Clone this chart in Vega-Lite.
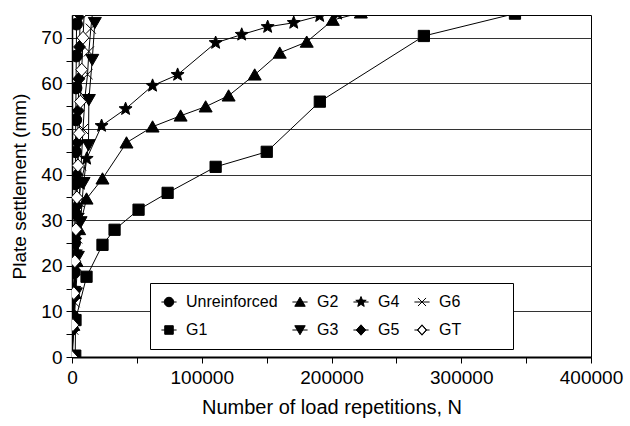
{
  "$schema": "https://vega.github.io/schema/vega-lite/v6.json",
  "width": 519,
  "height": 342,
  "autosize": "none",
  "padding": {"left": 72, "top": 15, "right": 39, "bottom": 69},
  "background": "white",
  "config": {
    "font": "Liberation Sans",
    "view": {"stroke": "black", "strokeWidth": 1},
    "axis": {
      "labelFontSize": 19,
      "titleFontSize": 19,
      "titleFontWeight": "normal",
      "labelColor": "black",
      "titleColor": "black",
      "domainColor": "black",
      "tickColor": "black",
      "tickSize": 6,
      "labelFlush": false,
      "labelOverlap": false
    }
  },
  "data": {
    "values": [
      {"series": "Unreinforced", "n": 0, "s": 0},
      {"series": "Unreinforced", "n": 500, "s": 9},
      {"series": "Unreinforced", "n": 1000, "s": 13.5},
      {"series": "Unreinforced", "n": 1700, "s": 18.5},
      {"series": "Unreinforced", "n": 2000, "s": 25},
      {"series": "Unreinforced", "n": 2300, "s": 31.5},
      {"series": "Unreinforced", "n": 2500, "s": 38},
      {"series": "Unreinforced", "n": 2700, "s": 45},
      {"series": "Unreinforced", "n": 2900, "s": 52},
      {"series": "Unreinforced", "n": 3100, "s": 59},
      {"series": "Unreinforced", "n": 3300, "s": 66},
      {"series": "Unreinforced", "n": 3500, "s": 73},

      {"series": "G1", "n": 2500, "s": 0.3},
      {"series": "G1", "n": 2700, "s": 8.1},
      {"series": "G1", "n": 11200, "s": 17.6},
      {"series": "G1", "n": 23500, "s": 24.6},
      {"series": "G1", "n": 32800, "s": 27.9},
      {"series": "G1", "n": 51300, "s": 32.3},
      {"series": "G1", "n": 73700, "s": 36.0},
      {"series": "G1", "n": 110700, "s": 41.7},
      {"series": "G1", "n": 150100, "s": 45.0},
      {"series": "G1", "n": 191000, "s": 56.0},
      {"series": "G1", "n": 271200, "s": 70.4},
      {"series": "G1", "n": 341400, "s": 75.3},

      {"series": "G2", "n": 0, "s": 0},
      {"series": "G2", "n": 1000, "s": 7},
      {"series": "G2", "n": 2000, "s": 14},
      {"series": "G2", "n": 3500, "s": 21},
      {"series": "G2", "n": 5500, "s": 28},
      {"series": "G2", "n": 11200, "s": 34.7},
      {"series": "G2", "n": 23500, "s": 39.1},
      {"series": "G2", "n": 42000, "s": 47.0},
      {"series": "G2", "n": 62100, "s": 50.5},
      {"series": "G2", "n": 83700, "s": 52.9},
      {"series": "G2", "n": 103000, "s": 54.9},
      {"series": "G2", "n": 120700, "s": 57.3},
      {"series": "G2", "n": 140800, "s": 61.9},
      {"series": "G2", "n": 160100, "s": 66.7},
      {"series": "G2", "n": 180900, "s": 69.1},
      {"series": "G2", "n": 201000, "s": 73.9},
      {"series": "G2", "n": 222600, "s": 75.5},

      {"series": "G3", "n": 0, "s": 0},
      {"series": "G3", "n": 1500, "s": 7},
      {"series": "G3", "n": 3000, "s": 14},
      {"series": "G3", "n": 4500, "s": 22},
      {"series": "G3", "n": 6600, "s": 29.6},
      {"series": "G3", "n": 8900, "s": 38.2},
      {"series": "G3", "n": 12700, "s": 46.5},
      {"series": "G3", "n": 13000, "s": 56.4},
      {"series": "G3", "n": 15600, "s": 65.2},
      {"series": "G3", "n": 17600, "s": 73.3},

      {"series": "G4", "n": 0, "s": 0},
      {"series": "G4", "n": 800, "s": 7},
      {"series": "G4", "n": 1800, "s": 15},
      {"series": "G4", "n": 3000, "s": 23},
      {"series": "G4", "n": 4500, "s": 31},
      {"series": "G4", "n": 6500, "s": 38},
      {"series": "G4", "n": 11300, "s": 43.5},
      {"series": "G4", "n": 22800, "s": 50.7},
      {"series": "G4", "n": 41300, "s": 54.4},
      {"series": "G4", "n": 62100, "s": 59.5},
      {"series": "G4", "n": 81400, "s": 61.9},
      {"series": "G4", "n": 110700, "s": 68.9},
      {"series": "G4", "n": 130800, "s": 70.7},
      {"series": "G4", "n": 150800, "s": 72.4},
      {"series": "G4", "n": 170900, "s": 73.3},
      {"series": "G4", "n": 190900, "s": 74.8},
      {"series": "G4", "n": 204800, "s": 75.3},

      {"series": "G5", "n": 0, "s": 0},
      {"series": "G5", "n": 800, "s": 6},
      {"series": "G5", "n": 1500, "s": 13},
      {"series": "G5", "n": 2200, "s": 19},
      {"series": "G5", "n": 2800, "s": 26},
      {"series": "G5", "n": 3300, "s": 33},
      {"series": "G5", "n": 3800, "s": 40},
      {"series": "G5", "n": 4300, "s": 47},
      {"series": "G5", "n": 4800, "s": 54},
      {"series": "G5", "n": 5300, "s": 61},
      {"series": "G5", "n": 5800, "s": 68},
      {"series": "G5", "n": 6300, "s": 75},

      {"series": "G6", "n": 0, "s": 0},
      {"series": "G6", "n": 1000, "s": 6},
      {"series": "G6", "n": 2000, "s": 12},
      {"series": "G6", "n": 3000, "s": 19},
      {"series": "G6", "n": 4000, "s": 26},
      {"series": "G6", "n": 5500, "s": 34},
      {"series": "G6", "n": 7000, "s": 42},
      {"series": "G6", "n": 8500, "s": 50},
      {"series": "G6", "n": 10000, "s": 57},
      {"series": "G6", "n": 12000, "s": 62},
      {"series": "G6", "n": 13000, "s": 67},
      {"series": "G6", "n": 14500, "s": 72},
      {"series": "G6", "n": 16000, "s": 76},

      {"series": "GT", "n": 0, "s": 0},
      {"series": "GT", "n": 700, "s": 7},
      {"series": "GT", "n": 1400, "s": 14},
      {"series": "GT", "n": 2200, "s": 21},
      {"series": "GT", "n": 3000, "s": 28},
      {"series": "GT", "n": 3800, "s": 35},
      {"series": "GT", "n": 4600, "s": 42},
      {"series": "GT", "n": 5500, "s": 49},
      {"series": "GT", "n": 6500, "s": 56},
      {"series": "GT", "n": 7500, "s": 63},
      {"series": "GT", "n": 8500, "s": 70},
      {"series": "GT", "n": 9500, "s": 76}
    ]
  },
  "encoding": {
    "x": {
      "field": "n",
      "type": "quantitative",
      "scale": {"domain": [0, 400000], "nice": false},
      "axis": {
        "title": "Number of load repetitions, N",
        "titleFontSize": 20,
        "values": [0, 50000, 100000, 150000, 200000, 250000, 300000, 350000, 400000],
        "format": "d",
        "labelExpr": "datum.value % 100000 === 0 ? datum.label : ''",
        "grid": false,
        "domainWidth": 2,
        "labelPadding": 5,
        "titlePadding": 10
      }
    },
    "y": {
      "field": "s",
      "type": "quantitative",
      "scale": {"domain": [0, 75], "nice": false},
      "axis": {
        "title": "Plate settlement (mm)",
        "values": [0, 5, 10, 15, 20, 25, 30, 35, 40, 45, 50, 55, 60, 65, 70],
        "labelExpr": "datum.value % 10 === 0 ? datum.label : ''",
        "grid": true,
        "gridColor": "#333333",
        "gridOpacity": {"condition": {"test": "datum.value % 10 === 0", "value": 1}, "value": 0},
        "domainWidth": 1.5,
        "labelPadding": 4,
        "titlePadding": 11
      }
    }
  },
  "resolve": {"scale": {"shape": "independent"}},
  "layer": [
    {
      "mark": {"type": "line", "color": "black", "strokeWidth": 1, "clip": true},
      "encoding": {"detail": {"field": "series"}}
    },
    {
      "mark": {"type": "point", "filled": true, "color": "black", "stroke": "black", "strokeWidth": 1, "opacity": 1, "size": 140, "clip": true},
      "encoding": {
        "fill": {"condition": {"test": "datum.series === 'GT'", "value": "white"}, "value": "black"},
        "shape": {
          "field": "series",
          "type": "nominal",
          "scale": {
            "domain": ["Unreinforced", "G1", "G2", "G3", "G4", "G5", "G6", "GT"],
            "range": [
              "M1,0A1,1,0,1,1,-1,0A1,1,0,1,1,1,0Z",
              "M-0.95,-0.95H0.95V0.95H-0.95Z",
              "M0,-1L1.1,0.9L-1.1,0.9Z",
              "M0,1L1.1,-0.9L-1.1,-0.9Z",
              "M0,-1.15L0.294,-0.405L1.094,-0.355L0.476,0.155L0.676,0.93L0,0.5L-0.676,0.93L-0.476,0.155L-1.094,-0.355L-0.294,-0.405Z",
              "M0,-1.1L1,0L0,1.1L-1,0Z",
              "M-0.85,-0.85L0.85,0.85M-0.85,0.85L0.85,-0.85",
              "M0,-1.1L1,0L0,1.1L-1,0Z"
            ]
          },
          "legend": null
        }
      }
    },
    {
      "mark": {"type": "point", "filled": true, "color": "black", "stroke": "black", "strokeWidth": 1, "opacity": 1, "size": 0},
      "encoding": {
        "shape": {
          "field": "series",
          "type": "nominal",
          "scale": {
            "domain": ["Unreinforced", "G1", "G2", "G3", "G4", "G5", "G6", "GT"],
            "range": [
              "M-1.6,0H1.6M1,0A1,1,0,1,1,-1,0A1,1,0,1,1,1,0Z",
              "M-1.6,0H1.6M-0.9,-0.9H0.9V0.9H-0.9Z",
              "M-1.6,0H1.6M0,-1L1.1,0.9L-1.1,0.9Z",
              "M-1.6,0H1.6M0,1L1.1,-0.9L-1.1,-0.9Z",
              "M-1.6,0H1.6M0,-1.15L0.294,-0.405L1.094,-0.355L0.476,0.155L0.676,0.93L0,0.5L-0.676,0.93L-0.476,0.155L-1.094,-0.355L-0.294,-0.405Z",
              "M-1.6,0H1.6M0,-1.1L1,0L0,1.1L-1,0Z",
              "M-1.6,0H1.6M-0.85,-0.85L0.85,0.85M-0.85,0.85L0.85,-0.85",
              "M-1.6,0H-1M1,0H1.6M0,-1.1L1,0L0,1.1L-1,0ZM0,-0.97L-0.88,0L0,0.97L0.88,0Z"
            ]
          },
          "legend": {
            "orient": "none",
            "legendX": 78,
            "legendY": 268,
            "columns": 4,
            "title": "\u00a0",
            "titleOrient": "right",
            "titlePadding": 41,
            "strokeColor": "black",
            "fillColor": "white",
            "padding": 11,
            "rowPadding": 12,
            "columnPadding": 12,
            "labelFontSize": 16,
            "labelColor": "black",
            "symbolSize": 90,
            "symbolStrokeWidth": 1,
            "labelOffset": 9
          }
        }
      }
    }
  ]
}
